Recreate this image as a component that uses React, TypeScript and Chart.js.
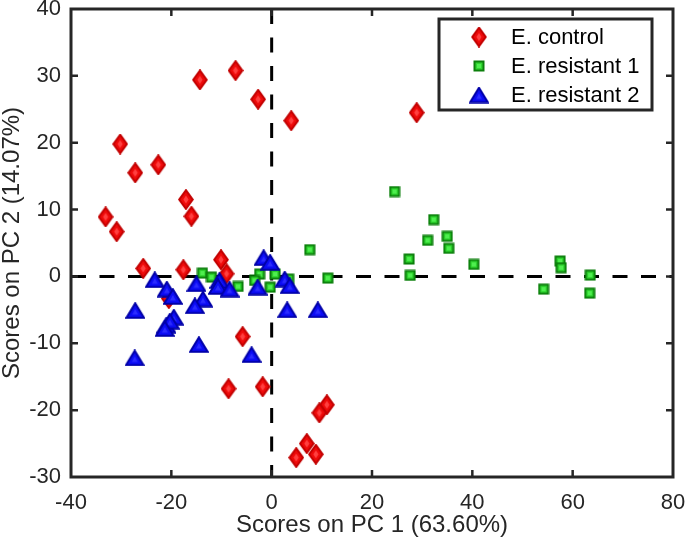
import React, { useEffect, useRef } from 'react';
import { Chart, registerables } from 'chart.js';

Chart.register(...registerables);

// ---------- data ----------
const seriesNames = ['E. control', 'E. resistant 1', 'E. resistant 2'];

const xAxisTitle = 'Scores on PC 1 (63.60%)';
const yAxisTitle = 'Scores on PC 2 (14.07%)';

const xTickValues = [-40, -20, 0, 20, 40, 60, 80];
const yTickValues = [-30, -20, -10, 0, 10, 20, 30, 40];

const controlScores: [number, number][] = [
  [-33.1, 8.9], [-30.9, 6.7], [-30.2, 19.8], [-27.2, 15.5], [-22.6, 16.7],
  [-17.1, 11.5], [-16.0, 9.0], [-14.3, 29.4], [-7.2, 30.8], [-2.7, 26.5],
  [3.9, 23.3], [28.9, 24.5], [-25.6, 1.2], [-17.6, 1.0], [-10.1, 2.5],
  [-9.0, 0.4], [-20.5, -3.3], [-5.8, -9.0], [-8.6, -16.8], [-1.8, -16.5],
  [11.0, -19.2], [9.5, -20.4], [7.0, -25.0], [8.8, -26.6], [4.9, -27.1],
];

const resistant1Scores: [number, number][] = [
  [24.5, 12.7], [32.3, 8.5], [31.1, 5.4], [35.0, 6.0], [35.3, 4.2],
  [27.4, 2.6], [27.6, 0.15], [40.3, 1.8], [54.2, -1.9], [57.5, 2.3],
  [57.7, 1.3], [63.5, 0.2], [63.4, -2.5], [7.6, 4.0], [11.2, -0.25],
  [-2.4, 0.35], [-3.4, -0.6], [0.7, 0.35], [-0.3, -1.6], [3.4, -0.4],
  [-13.8, 0.5], [-12.0, -0.1], [-6.7, -1.5],
];

const resistant2Scores: [number, number][] = [
  [-27.2, -5.1], [-27.3, -12.2], [-23.3, -0.5], [-20.9, -1.9], [-19.7, -3.0],
  [-19.5, -6.1], [-21.0, -7.3], [-20.3, -6.7], [-21.3, -7.8], [-15.0, -1.1],
  [-13.7, -3.4], [-15.3, -4.4], [-14.5, -10.2], [-10.4, -0.6], [-10.7, -1.5],
  [-8.4, -1.9], [-4.0, -11.7], [-2.8, -1.6], [-1.6, 2.8], [-0.3, 2.1],
  [2.6, -0.4], [3.6, -1.4], [3.1, -5.0], [9.2, -5.0],
];

const FONT = "'Liberation Sans', Arial, Helvetica, sans-serif";

function toPoints(arr: [number, number][]) {
  return arr.map(([x, y]) => ({ x, y }));
}

function makeDiamond(): HTMLCanvasElement {
  const c = document.createElement('canvas');
  c.width = 16; c.height = 21;
  const g = c.getContext('2d')!;
  const cx = 8, cy = 10.5;
  g.beginPath();
  g.moveTo(cx, 1.2); g.lineTo(14.8, cy); g.lineTo(cx, 19.8); g.lineTo(1.2, cy); g.closePath();
  g.fillStyle = '#ee0a0a'; g.fill();
  g.lineWidth = 2; g.strokeStyle = '#c20000'; g.stroke();
  g.beginPath();
  g.moveTo(cx, cy - 4); g.lineTo(cx + 2.6, cy); g.lineTo(cx, cy + 4); g.lineTo(cx - 2.6, cy); g.closePath();
  g.fillStyle = '#ff4040'; g.fill();
  return c;
}

function makeSquare(): HTMLCanvasElement {
  const c = document.createElement('canvas');
  c.width = 12; c.height = 12;
  const g = c.getContext('2d')!;
  g.fillStyle = '#2fd62f';
  g.fillRect(1, 1, 10, 10);
  g.lineWidth = 2; g.strokeStyle = '#0b7f0b';
  g.strokeRect(1.5, 1.5, 9, 9);
  g.fillStyle = '#4fee4f';
  g.fillRect(4, 4, 4, 4);
  return c;
}

function makeTriangle(): HTMLCanvasElement {
  const c = document.createElement('canvas');
  c.width = 20; c.height = 17;
  const g = c.getContext('2d')!;
  g.beginPath();
  g.moveTo(10, 1.2); g.lineTo(18.8, 15.8); g.lineTo(1.2, 15.8); g.closePath();
  g.fillStyle = '#0c0cf5'; g.fill();
  g.lineWidth = 2; g.lineJoin = 'miter'; g.strokeStyle = '#0000a8'; g.stroke();
  g.beginPath();
  g.moveTo(10, 7); g.lineTo(13, 12.5); g.lineTo(7, 12.5); g.closePath();
  g.fillStyle = '#2c2cff'; g.fill();
  return c;
}

function zeroPadding(s: any) {
  s.paddingTop = 0;
  s.paddingBottom = 0;
  s.paddingLeft = 0;
  s.paddingRight = 0;
}

export default function App() {
  const ref = useRef<HTMLCanvasElement | null>(null);

  useEffect(() => {
    if (!ref.current) return;
    const diamond = makeDiamond();
    const square = makeSquare();
    const triangle = makeTriangle();
    const markers = [diamond, square, triangle];

    const xMin = xTickValues[0], xMax = xTickValues[xTickValues.length - 1];
    const yMin = yTickValues[0], yMax = yTickValues[yTickValues.length - 1];

    const framePlugin = {
      id: 'frameAndLegend',
      afterDatasetsDraw(chart: any) {
        const { ctx, chartArea: a, scales } = chart;
        ctx.save();
        // inward ticks
        ctx.strokeStyle = '#262626';
        ctx.lineWidth = 2.5;
        ctx.beginPath();
        scales.x.ticks.forEach((t: any) => {
          if (t.value <= xMin || t.value >= xMax) return;
          const p = scales.x.getPixelForValue(t.value);
          ctx.moveTo(p, a.bottom); ctx.lineTo(p, a.bottom - 7);
          ctx.moveTo(p, a.top); ctx.lineTo(p, a.top + 7);
        });
        scales.y.ticks.forEach((t: any) => {
          if (t.value <= yMin || t.value >= yMax) return;
          const p = scales.y.getPixelForValue(t.value);
          ctx.moveTo(a.left, p); ctx.lineTo(a.left + 7, p);
          ctx.moveTo(a.right, p); ctx.lineTo(a.right - 7, p);
        });
        ctx.stroke();
        // frame
        ctx.lineWidth = 3;
        ctx.strokeRect(a.left, a.top, a.right - a.left, a.bottom - a.top);

        // legend
        const lx = a.right - 234, ly = a.top + 10, lw = 213, lh = 91;
        ctx.fillStyle = '#ffffff';
        ctx.fillRect(lx, ly, lw, lh);
        ctx.lineWidth = 3;
        ctx.strokeStyle = '#262626';
        ctx.strokeRect(lx, ly, lw, lh);
        ctx.font = `22px ${FONT}`;
        ctx.fillStyle = '#000000';
        ctx.textBaseline = 'middle';
        ctx.textAlign = 'left';
        seriesNames.forEach((name, i) => {
          const cy = ly + 18 + i * 29;
          const m = markers[i];
          ctx.drawImage(m, lx + 40 - m.width / 2, cy - m.height / 2);
          ctx.fillText(name, lx + 72, cy + 1);
        });
        ctx.restore();
      },
    };

    const chart = new Chart(ref.current, {
      type: 'scatter',
      data: {
        datasets: [
          {
            label: seriesNames[2],
            data: toPoints(resistant2Scores),
            pointStyle: triangle as any,
            pointRadius: 8,
            pointHoverRadius: 8,
            order: 0,
          },
          {
            label: seriesNames[1],
            data: toPoints(resistant1Scores),
            pointStyle: square as any,
            pointRadius: 6,
            pointHoverRadius: 6,
            order: 1,
          },
          {
            label: seriesNames[0],
            data: toPoints(controlScores),
            pointStyle: diamond as any,
            pointRadius: 8,
            pointHoverRadius: 8,
            order: 2,
          },
          {
            label: 'zeroY',
            data: [{ x: xMin, y: 0 }, { x: xMax, y: 0 }],
            showLine: true,
            borderColor: '#000000',
            borderWidth: 3,
            borderDash: [15, 13.5],
            pointRadius: 0,
            order: 3,
          } as any,
          {
            label: 'zeroX',
            data: [{ x: 0, y: yMax }, { x: 0, y: yMin }],
            showLine: true,
            borderColor: '#000000',
            borderWidth: 3,
            borderDash: [15, 13.5],
            pointRadius: 0,
            order: 4,
          } as any,
        ],
      },
      options: {
        animation: false,
        responsive: false,
        devicePixelRatio: 1,
        layout: { padding: { top: 7, right: 12, left: 0, bottom: 0 } },
        plugins: {
          legend: { display: false },
          tooltip: { enabled: false },
        },
        scales: {
          x: {
            type: 'linear',
            min: xMin,
            max: xMax,
            grid: { display: false, drawTicks: false },
            border: { display: false },
            ticks: {
              stepSize: 20,
              padding: 13,
              color: '#262626',
              font: { family: FONT, size: 22 },
              maxRotation: 0,
            },
            title: {
              display: true,
              text: xAxisTitle,
              color: '#262626',
              font: { family: FONT, size: 24 },
              padding: { top: 0, bottom: 6 },
            },
            afterFit: (s: any) => { s.height = 69; zeroPadding(s); },
          },
          y: {
            type: 'linear',
            min: yMin,
            max: yMax,
            grid: { display: false, drawTicks: false },
            border: { display: false },
            ticks: {
              stepSize: 10,
              padding: 10,
              color: '#262626',
              font: { family: FONT, size: 22 },
            },
            title: {
              display: true,
              text: yAxisTitle,
              color: '#262626',
              font: { family: FONT, size: 24, lineHeight: 1 },
              padding: 0,
            },
            afterFit: (s: any) => { s.width = 71; zeroPadding(s); },
          },
        },
      },
      plugins: [framePlugin],
    });

    return () => chart.destroy();
  }, []);

  return (
    <div style={{ position: 'absolute', left: 0, top: 0, width: 685, height: 546, background: '#ffffff' }}>
      <canvas ref={ref} width={685} height={546} style={{ display: 'block' }} />
    </div>
  );
}
